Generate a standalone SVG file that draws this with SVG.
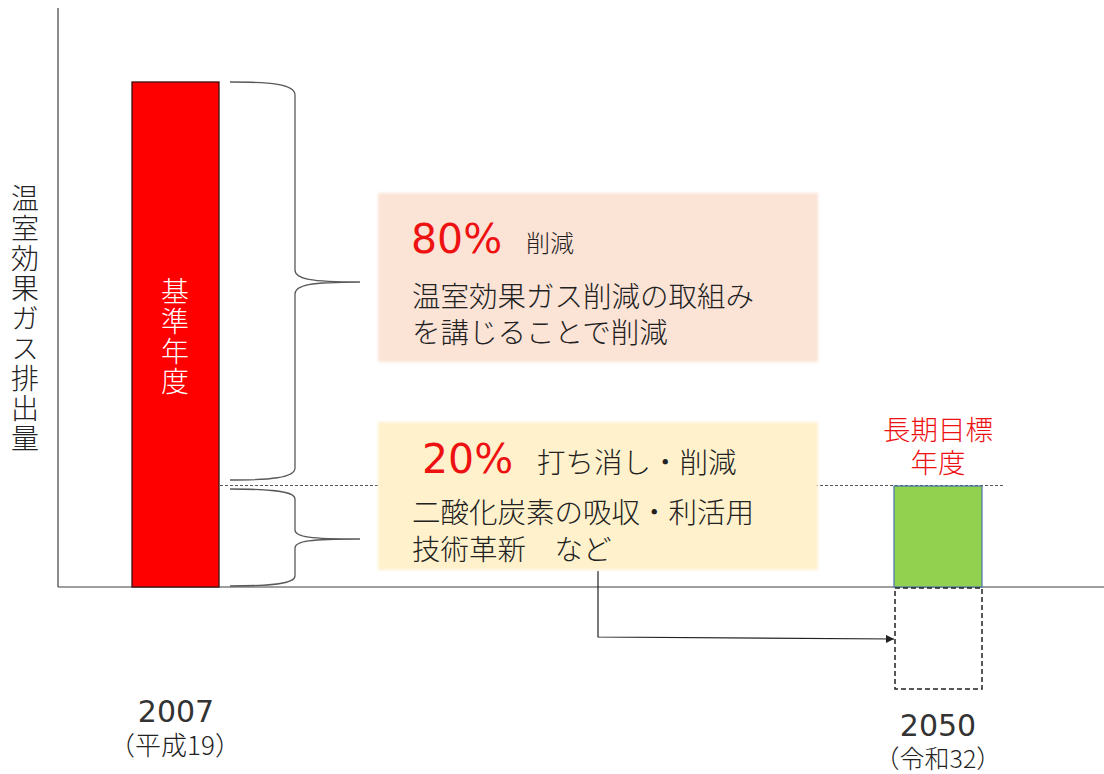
<svg xmlns="http://www.w3.org/2000/svg" width="1104" height="774" viewBox="0 0 1104 774">
<style>
.t{font-family:"Noto Sans CJK JP","Noto Sans",sans-serif;font-weight:300;fill:#222}
.n{font-family:"DejaVu Sans","Noto Sans CJK JP",sans-serif;font-weight:400}
.y{font-family:"DejaVu Sans",sans-serif;font-weight:400;fill:#333}
.r{fill:#ee1111}
.w{fill:#ffffff}
.brace{fill:none;stroke:#595959;stroke-width:1.3}
.axis{stroke:#404040;stroke-width:1.2;fill:none}
</style>
<defs>
<filter id="soft" x="-5%" y="-5%" width="110%" height="110%"><feGaussianBlur stdDeviation="1.5"/></filter>
<marker id="ah" viewBox="0 0 10 10" refX="10" refY="5" markerWidth="8" markerHeight="8" orient="auto" markerUnits="userSpaceOnUse"><path d="M0,0 L10,5 L0,10 z" fill="#222"/></marker>
</defs>
<rect width="1104" height="774" fill="#ffffff"/>
<g id="axes">
<line class="axis" x1="58" y1="8" x2="58" y2="587"/>
<line class="axis" x1="58" y1="587" x2="1104" y2="587"/>
</g>
<g id="ylabel">
<text class="t" x="25" y="184" font-size="28" letter-spacing="2" style="writing-mode:vertical-rl">温室効果ガス排出量</text>
</g>
<g id="base-bar">
<rect x="132" y="82" width="87" height="505" fill="#ff0000" stroke="#3a1010" stroke-width="1.3"/>
<text class="t w" x="175" y="277" font-size="28" style="writing-mode:vertical-rl" letter-spacing="2">基準年度</text>
</g>
<g id="braces">
<path class="brace" d="M230,82 C270,82 295,84 295,95 L295,270 C295,279 310,282 360,282 C310,282 295,285 295,294 L295,468 C295,478 270,480 230,480"/>
<path class="brace" d="M230,489 C270,489 295,491 295,499 L295,530 C295,537 310,539 360,539 C310,539 295,541 295,548 L295,576 C295,584 270,586 230,586"/>
</g>
<g id="box80">
<rect x="378" y="193" width="440" height="169" fill="#fbe3d6" filter="url(#soft)"/>
<text class="n r" x="411" y="253" font-size="41">80%</text>
<text class="t" x="526" y="252" font-size="24">削減</text>
<text class="t" x="412" y="307" font-size="28.5">温室効果ガス削減の取組み</text>
<text class="t" x="412" y="343" font-size="28.5">を講じることで削減</text>
</g>
<g id="connectors">
<line x1="220" y1="485.5" x2="1005" y2="485.5" stroke="#555" stroke-width="1" stroke-dasharray="3,2"/>
<polyline points="598,571 598,637 894,639" fill="none" stroke="#222" stroke-width="1.2" marker-end="url(#ah)"/>
</g>
<g id="box20">
<rect x="378" y="422" width="440" height="148" fill="#fff1cc" filter="url(#soft)"/>
<text class="n r" x="422" y="473" font-size="41">20%</text>
<text class="t" x="537" y="473" font-size="28.5">打ち消し・削減</text>
<text class="t" x="412" y="523" font-size="28.5">二酸化炭素の吸収・利活用</text>
<text class="t" x="412" y="560" font-size="28.5">技術革新　など</text>
</g>
<g id="target">
<text class="t r" x="938" y="440" font-size="27.5" text-anchor="middle">長期目標</text>
<text class="t r" x="938" y="473" font-size="27.5" text-anchor="middle">年度</text>
<rect x="894" y="486" width="88" height="101" fill="#92d050" stroke="#4a74a8" stroke-width="1.2"/>
<rect x="895" y="588" width="87" height="101" fill="none" stroke="#222" stroke-width="1.5" stroke-dasharray="5,3"/>
</g>
<g id="label2007">
<text class="y" x="176" y="722" font-size="30" text-anchor="middle">2007</text>
<text class="t" x="175" y="755" font-size="26" text-anchor="middle">（平成19）</text>
</g>
<g id="label2050">
<text class="y" x="938" y="736" font-size="30" text-anchor="middle">2050</text>
<text class="t" x="938" y="768" font-size="25" text-anchor="middle">（令和32）</text>
</g>
</svg>
